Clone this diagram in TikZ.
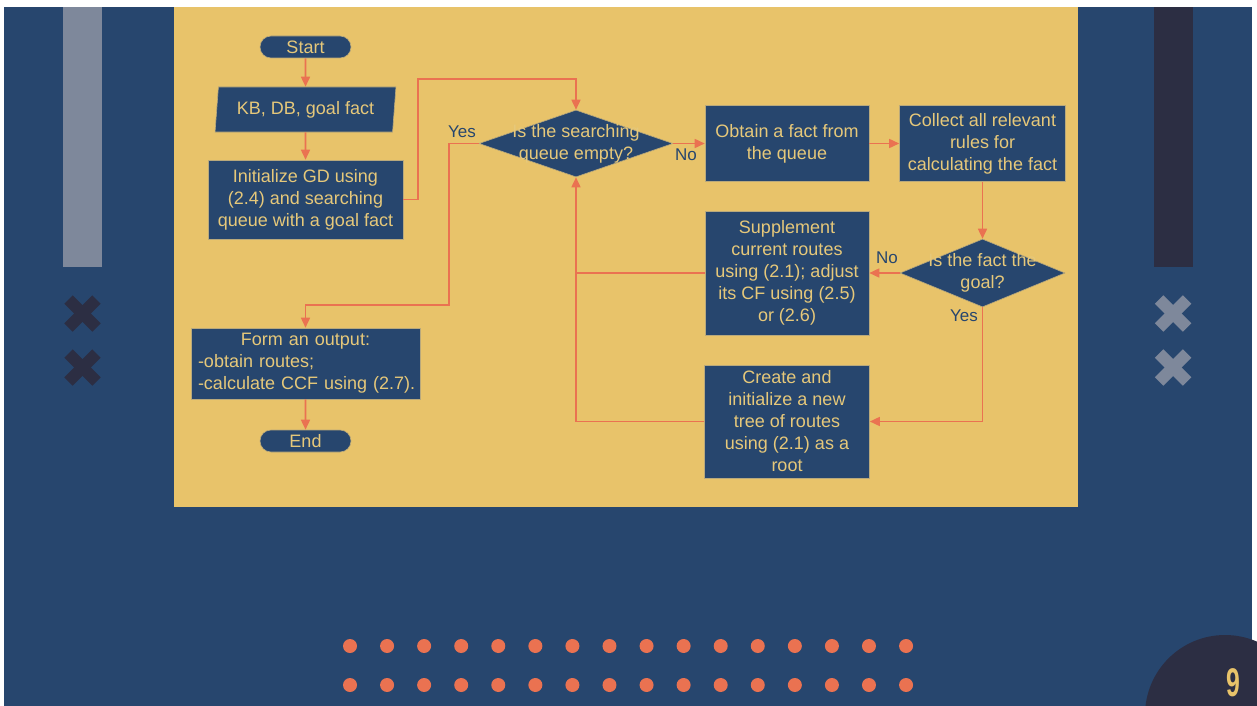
\documentclass[tikz,border=0pt]{standalone}
\usepackage{fontspec}
\setmainfont{Liberation Sans}
\usetikzlibrary{arrows.meta,shapes.geometric,shapes.misc}

\definecolor{navy}{HTML}{27466E}
\definecolor{panel}{HTML}{E8C36A}
\definecolor{txt}{HTML}{E6C87A}
\definecolor{coral}{HTML}{EA7251}
\definecolor{ink}{HTML}{2C2E43}
\definecolor{slate}{HTML}{7E889B}
\definecolor{edgeline}{HTML}{B9A97C}

\tikzset{
  box/.style={draw=edgeline, line width=0.6pt, fill=navy, text=txt,
    font=\fontsize{18}{22}\selectfont, align=center, inner sep=0pt},
  process/.style={box, rectangle},
  terminal/.style={box, rounded rectangle, minimum width=91pt, minimum height=22pt},
  iobox/.style={box, trapezium, trapezium left angle=81, trapezium right angle=99,
    trapezium stretches=true, minimum width=181pt, minimum height=45pt},
  decision/.style={box, diamond},
  dtext/.style={text=txt, font=\fontsize{18}{22}\selectfont, align=center, inner sep=0pt},
  branch/.style={text=navy, font=\fontsize{17}{20}\selectfont, inner sep=0pt},
  arr/.style={draw=coral, line width=1.6pt, -{Triangle[length=10pt,width=9pt]}},
  link/.style={draw=coral, line width=1.6pt},
  cross/.style={line width=12pt, line cap=butt},
  dot/.style={fill=coral, draw=none},
}

\begin{document}
\begin{tikzpicture}[x=1pt,y=-1pt]
\useasboundingbox (0,0) rectangle (1257,706);
\fill[white] (0,0) rectangle (1257,706);

% slide background and decorations
\fill[navy] (4,7) rectangle (1252,706);
\begin{scope}
  \clip (0,0) rectangle (1257,706);
  \fill[ink] (1225,715) circle[radius=80];
\end{scope}
\fill[slate] (63,7) rectangle (102,267);
\fill[ink] (1154,7) rectangle (1193,267);

\foreach \cy in {313.5,367.5} {
  \draw[cross, ink] (82.5-14,\cy-14) -- (82.5+14,\cy+14);
  \draw[cross, ink] (82.5-14,\cy+14) -- (82.5+14,\cy-14);
  \draw[cross, slate] (1173-14,\cy-14) -- (1173+14,\cy+14);
  \draw[cross, slate] (1173-14,\cy+14) -- (1173+14,\cy-14);
}

\foreach \i in {0,...,15} {
  \fill[dot] (350+37.07*\i,646) circle[radius=7];
  \fill[dot] (350+37.07*\i,685) circle[radius=7];
}

\node[text=panel, font=\bfseries\fontsize{40}{40}\selectfont, inner sep=0pt]
  (pageno) at (1233.5,683) {\scalebox{0.62}[1]{9}};

% flowchart panel
\fill[panel] (174,7) rectangle (1078,507);

\node[terminal] (start) at (305.5,47) {Start};
\node[iobox] (kb) at (305.5,109.5) {KB, DB, goal fact};
\node[process, minimum width=195pt, minimum height=79pt] (init) at (305.5,199.5)
  {Initialize GD using\\(2.4) and searching\\queue with a goal fact};

\node[decision, minimum width=194pt, minimum height=67pt] (d1) at (576,143.5) {};
\node[dtext] (d1t) at (576,143.5) {Is the searching\\queue empty?};

\node[process, minimum width=164pt, minimum height=76pt] (obtain) at (787,143.5)
  {Obtain a fact from\\the queue};
\node[process, minimum width=166pt, minimum height=76pt] (collect) at (982.5,143.5)
  {Collect all relevant\\rules for\\calculating the fact};

\node[decision, minimum width=165pt, minimum height=68pt] (d2) at (982.5,273) {};
\node[dtext] (d2t) at (982.5,273) {Is the fact the\\goal?};

\node[process, minimum width=164pt, minimum height=124pt] (supp) at (787,273)
  {Supplement\\current routes\\using (2.1); adjust\\its CF using (2.5)\\or (2.6)};
\node[process, minimum width=165pt, minimum height=113pt] (create) at (787,421.5)
  {Create and\\initialize a new\\tree of routes\\using (2.1) as a\\root};

\node[process, minimum width=229pt, minimum height=71pt, text width=221pt, align=left]
  (out) at (305.5,363.5)
  {\makebox[\linewidth][c]{Form an output:}\\\hspace*{3pt}-obtain routes;\\\hspace*{3pt}-calculate CCF using (2.7).};
\node[terminal] (end) at (305.5,441) {End};

% branch labels
\node[branch] (yes1) at (462,132) {Yes};
\node[branch] (no1) at (686,155) {No};
\node[branch] (no2) at (887,258) {No};
\node[branch] (yes2) at (964,316) {Yes};

% junction points of the routed connectors
\coordinate (j1) at (418,79);
\coordinate (j2) at (449,305);

% connectors
\draw[arr] (start) -- (kb);
\draw[arr] (kb) -- (init);
\draw[arr] (init.east) -| (j1) -| (d1.north);
\draw[arr] (d1.west) -| (j2) -| (out.north);
\draw[arr] (d1.east) -- (obtain.west);
\draw[arr] (obtain) -- (collect);
\draw[arr] (collect) -- (d2);
\draw[arr] (d2.west) -- (supp.east);
\draw[arr] (d2.south) |- (create.east);
\draw[arr] (create.west) -| (d1.south);
\draw[link] (supp.west) -- (supp.west -| d1.south);
\draw[arr] (out) -- (end);
\end{tikzpicture}
\end{document}
